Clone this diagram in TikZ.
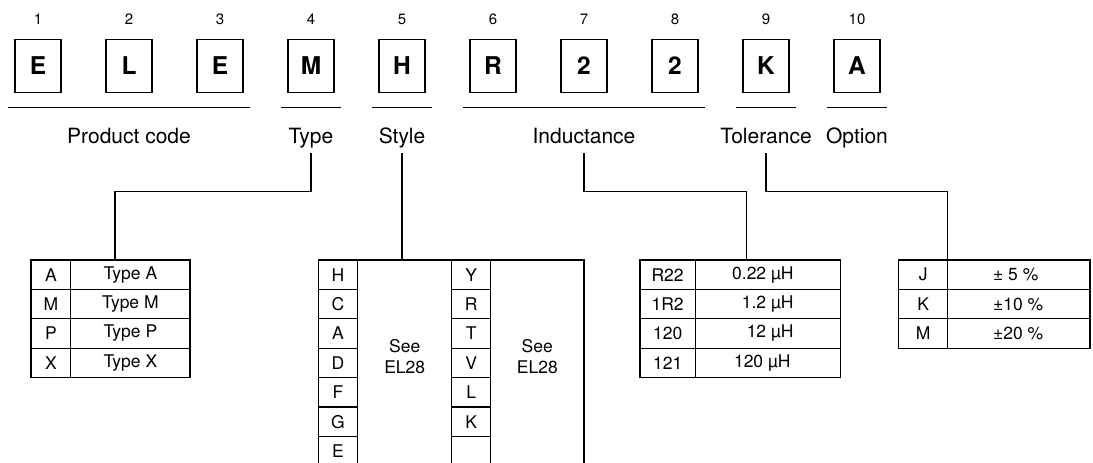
\documentclass[tikz,border=0pt]{standalone}
\usepackage{fontspec}
\setmainfont{TeX Gyre Heros}
\usetikzlibrary{positioning}

\tikzset{
  codebox/.style={draw, minimum width=46, minimum height=53, inner sep=0, outer sep=0,
    font=\fontsize{24.5}{28}\selectfont\bfseries},
  codenum/.style={anchor=base, font=\fontsize{15}{17}\selectfont},
  grouplabel/.style={anchor=base, inner xsep=0, inner ysep=4.5pt, text depth=5pt,
    font=\fontsize{21}{23}\selectfont},
  cell/.style={draw, anchor=north west, inner sep=0, outer sep=0, minimum height=29.4,
    font=\fontsize{17.5}{20}\selectfont},
  celltext/.style={inner sep=0, font=\fontsize{17.5}{21}\selectfont},
}

\begin{document}
\begin{tikzpicture}[x=1pt, y=-1pt, line width=1.1pt]
\clip (0,0) rectangle (1093,463);

% the ten code characters
\foreach \ch [count=\i] in {E,L,E,M,H,R,2,2,K,A} {
  \node[codebox] (box\i) at ({38+91*(\i-1)},65.8) {\ch};
  \node[codenum] (num\i) at (box\i |- 0,24) {\i};
}

% groups
\draw ([shift={(-7.4,15)}]box1.south west) -- ([shift={(7.4,15)}]box3.south east);
\draw ([shift={(-7.4,15)}]box4.south west) -- ([shift={(7.4,15)}]box4.south east);
\draw ([shift={(-7.4,15)}]box5.south west) -- ([shift={(7.4,15)}]box5.south east);
\draw ([shift={(-7.4,15)}]box6.south west) -- ([shift={(7.4,15)}]box8.south east);
\draw ([shift={(-7.4,15)}]box9.south west) -- ([shift={(7.4,15)}]box9.south east);
\draw ([shift={(-7.4,15)}]box10.south west) -- ([shift={(7.4,15)}]box10.south east);

\node[grouplabel] (lblcode) at (box2 |- 0,143) {Product code};
\node[grouplabel] (lbltype) at (box4 |- 0,143) {Type};
\node[grouplabel] (lblstyle) at (box5 |- 0,143) {Style};
\node[grouplabel] (lblind) at (box7 |- 0,143) {Inductance};
\node[grouplabel] (lbltol) at (box9 |- 0,143) {Tolerance};
\node[grouplabel] (lblopt) at (box10 |- 0,143) {Option};

% type table
\foreach \c/\t [count=\r] in {A/Type A, M/Type M, P/Type P, X/Type X} {
  \node[cell, minimum width=39.7] (typec\r) at (31,{260+29.4*(\r-1)}) {\c};
  \node[cell, minimum width=119.3] (typet\r) at (70.7,{260+29.4*(\r-1)}) {\t};
}
\coordinate (typetab) at (115,260);

% style table
\foreach \c [count=\r] in {H,C,A,D,F,G,E}
  \node[cell, minimum width=39.4] (stylea\r) at (318.3,{260+29.4*(\r-1)}) {\c};
\foreach \c [count=\r] in {Y,R,T,V,L,K,{}}
  \node[cell, minimum width=39] (styleb\r) at (451.7,{260+29.4*(\r-1)}) {\c};
\draw (357.7,260) rectangle (451.7,480);
\draw (490.7,260) rectangle (584,480);
\node[celltext, align=center] (seea) at (404.7,357) {See\\EL28};
\node[celltext, align=center] (seeb) at (537.3,357) {See\\EL28};

% inductance table
\foreach \c/\v/\s [count=\r] in {R22/0.22 µH/0, 1R2/1.2 µH/0, 120/12 µH/0, 121/120 µH/3} {
  \node[cell, minimum width=55.3] (indc\r) at (640,{260+29.4*(\r-1)}) {\c};
  \node[cell, minimum width=145.4] (indv\r) at (695.3,{260+29.4*(\r-1)}) {};
  \node[celltext, anchor=east] (indt\r) at ([xshift=-46.7-\s]indv\r.east) {\v};
}
\coordinate (indtab) at (746.7,260);

% tolerance table
\foreach \c/\v [count=\r] in {J/± 5 \%, K/±10 \%, M/±20 \%} {
  \node[cell, minimum width=49] (tolc\r) at (898.7,{260+29.4*(\r-1)}) {\c};
  \node[cell, minimum width=142.3] (tolv\r) at (947.7,{260+29.4*(\r-1)}) {};
  \node[celltext, anchor=west] (tolt\r) at (992.6,{274.7+29.4*(\r-1)}) {\v};
}

% connectors
\draw (lbltype.south) -- (lbltype.south |- 0,191.7) -| (typetab);
\draw (lblstyle.south) -- (lblstyle.south |- stylea1.north);
\draw (lblind.south) -- (lblind.south |- 0,191.7) -| (indtab);
\draw (lbltol.south) -- (lbltol.south |- 0,191.7) -| (tolc1.north east);
\end{tikzpicture}
\end{document}
